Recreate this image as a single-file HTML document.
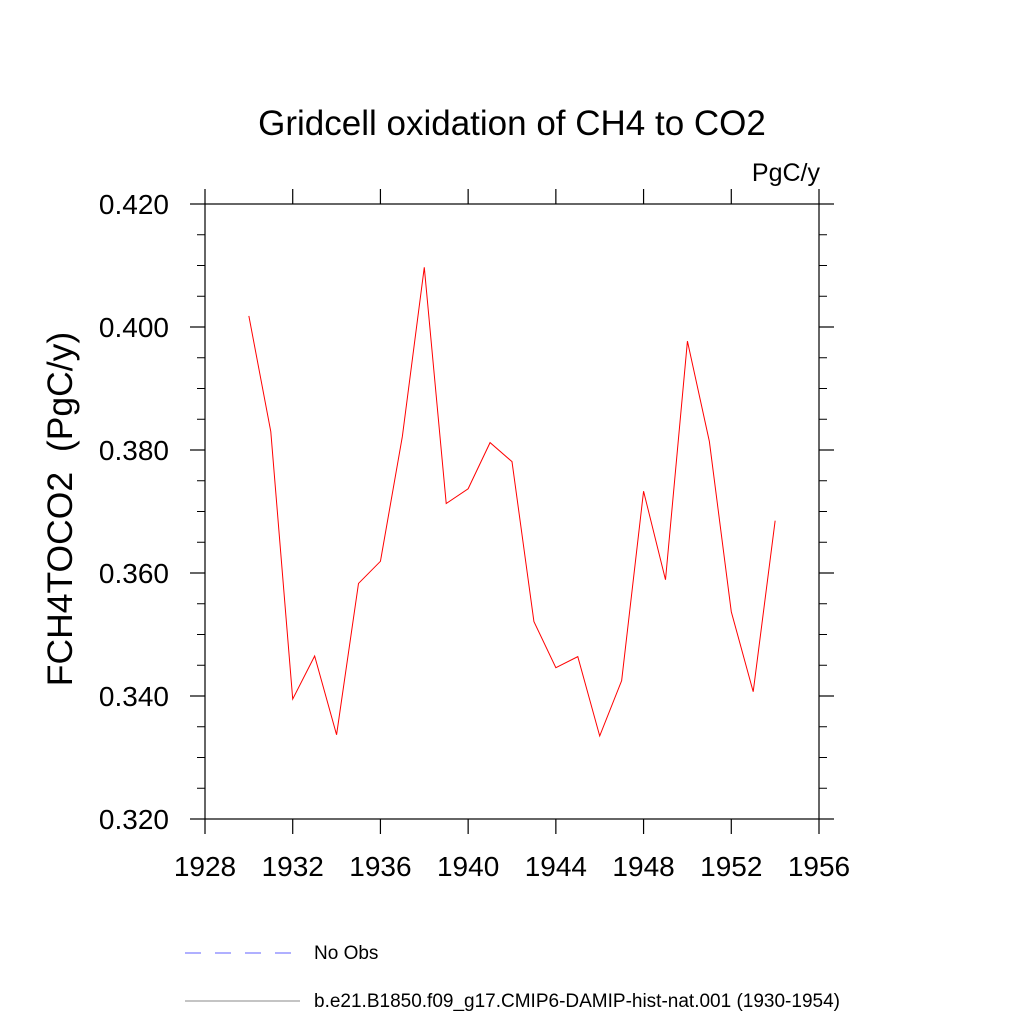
<!DOCTYPE html>
<html><head><meta charset="utf-8"><style>
body{margin:0;background:#fff;}
svg text{font-family:"Liberation Sans",sans-serif;}
</style></head><body>
<svg id="chart" width="1024" height="1024" xmlns="http://www.w3.org/2000/svg">
<text x="512" y="135" font-size="35" text-anchor="middle">Gridcell oxidation of CH4 to CO2</text>
<text x="820" y="181" font-size="25" text-anchor="end">PgC/y</text>
<text transform="translate(72,509) rotate(-90)" font-size="35.5" text-anchor="middle">FCH4TOCO2&#160;&#160;(PgC/y)</text>
<g id="axes"></g>
<polyline id="series" fill="none" stroke="#ff0000" stroke-width="1"></polyline>
<line x1="185" y1="953" x2="292" y2="953" stroke="#6060ff" stroke-width="1" stroke-dasharray="16,14"/>
<text x="314" y="959" font-size="19">No Obs</text>
<line x1="185" y1="1001" x2="300" y2="1001" stroke="#888" stroke-width="1"/>
<text x="314" y="1007" font-size="19">b.e21.B1850.f09_g17.CMIP6-DAMIP-hist-nat.001 (1930-1954)</text>
</svg>
<script>
const years=[1930,1931,1932,1933,1934,1935,1936,1937,1938,1939,1940,1941,1942,1943,1944,1945,1946,1947,1948,1949,1950,1951,1952,1953,1954];
const values=[0.4018,0.3830,0.3395,0.3465,0.3337,0.3583,0.3619,0.3822,0.4097,0.3713,0.3737,0.3812,0.3781,0.3521,0.3446,0.3464,0.3335,0.3425,0.3733,0.3589,0.3977,0.3814,0.3537,0.3407,0.3685];
const xTicks=[1928,1932,1936,1940,1944,1948,1952,1956];
const yTicks=[0.320,0.340,0.360,0.380,0.400,0.420];
const yTickLabels=["0.320","0.340","0.360","0.380","0.400","0.420"];
const X0=205,X1=819,Y0=819,Y1=204;
const xs=v=>X0+(v-1928)/(1956-1928)*(X1-X0);
const ys=v=>Y0-(v-0.32)/(0.42-0.32)*(Y0-Y1);
const NS="http://www.w3.org/2000/svg";
const g=document.getElementById('axes');
function ln(x1,y1,x2,y2,name,w){const l=document.createElementNS(NS,'line');
l.setAttribute('x1',x1);l.setAttribute('y1',y1);l.setAttribute('x2',x2);l.setAttribute('y2',y2);
l.setAttribute('stroke','#000');l.setAttribute('stroke-width',w||1.2);


g.appendChild(l);}
function tx(x,y,s,anchor,name){const t=document.createElementNS(NS,'text');
t.setAttribute('x',x);t.setAttribute('y',y);t.setAttribute('font-size','28');t.setAttribute('text-anchor',anchor);t.textContent=s;


g.appendChild(t);}
const box=document.createElementNS(NS,'rect');
box.setAttribute('x',X0);box.setAttribute('y',Y1);box.setAttribute('width',X1-X0);box.setAttribute('height',Y0-Y1);
box.setAttribute('fill','none');box.setAttribute('stroke','#000');box.setAttribute('stroke-width','1.2');


g.appendChild(box);
xTicks.forEach(v=>{const x=xs(v);ln(x,Y0,x,Y0+15,'x-tick');ln(x,Y1,x,Y1-15,'x-tick-top');tx(x,Y0+57,String(v),'middle','x-tick-label');});
yTicks.forEach((v,i)=>{const y=ys(v);ln(X0-15,y,X0,y,'y-tick');ln(X1,y,X1+15,y,'y-tick-right');tx(X0-36,y+10,yTickLabels[i],'end','y-tick-label');});
for(let v=0.325;v<0.42;v+=0.005){if(Math.abs((v*1000)%20)<0.5||Math.abs((v*1000)%20-20)<0.5)continue;const y=ys(v);
ln(X0-8,y,X0,y,'y-minor-tick',1);ln(X1,y,X1+8,y,'y-minor-tick-right',1);}
document.getElementById('series').setAttribute('points',years.map((yr,i)=>xs(yr)+','+ys(values[i])).join(' '));
</script>
</body></html>
